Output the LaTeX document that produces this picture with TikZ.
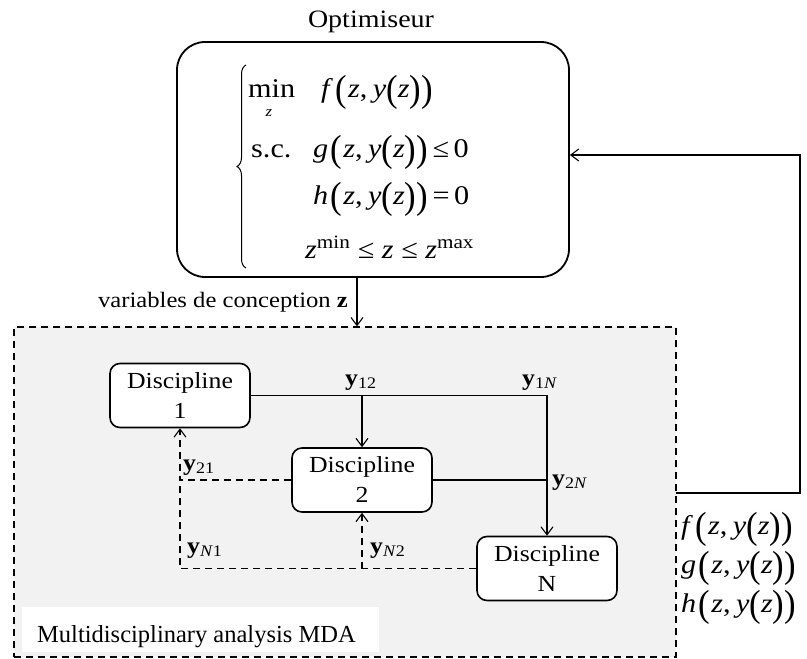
\documentclass[tikz,border=0pt]{standalone}
\usepackage{fontspec}
\usepackage{graphicx}
\setmainfont[FakeStretch=1.12]{Liberation Serif}
\newfontfamily\plainserif{Liberation Serif}
\usetikzlibrary{arrows.meta,calc,decorations.pathreplacing}
\newcommand\fs[2]{\fontsize{#1}{#2}\selectfont}
\newcommand\LP{\raisebox{-0.15em}{\scalebox{1.15}[1.4]{(}}}
\newcommand\RP{\raisebox{-0.15em}{\scalebox{1.15}[1.4]{)}}}
\newcommand\fn[1]{\textit{#1}\hspace{0.08em}\LP\hspace{0.05em}\textit{z},\hspace{0.2em}\textit{y}\LP\textit{z}\RP\RP}
\newcommand\yl[1]{\textbf{y}\textsubscript{#1}}
\begin{document}
\begin{tikzpicture}[x=1pt,y=-1pt,
  discbox/.style={draw, line width=1.6pt, rounded corners=10pt, fill=white,
    minimum width=140pt, minimum height=64pt, align=center, inner sep=0pt,
    font=\fs{23}{30}},
  conn/.style={line width=1.1pt, -{Straight Barb[length=8pt,width=12pt]}},
  plain/.style={line width=1.1pt},
  dconn/.style={line width=1.1pt, dash pattern=on 7pt off 5pt, -{Straight Barb[length=8pt,width=12pt]}},
  dplain/.style={line width=1.1pt, dash pattern=on 7pt off 5pt},
  lab/.style={anchor=base west, inner sep=0pt, font=\fs{23}{27}},
  mathrow/.style={anchor=base west, inner sep=0pt, font=\fs{27}{31}}]
\fill[white] (0,0) rectangle (807,659);
\useasboundingbox (0,0) rectangle (807,659);

% MDA frame
\node[draw, dash pattern=on 7pt off 5pt, line width=1.2pt, fill=gray!10,
  minimum width=662pt, minimum height=330pt, inner sep=0pt] (mda) at (345,492) {};
\node[fill=white, minimum width=357pt, minimum height=45pt, inner sep=0pt] (mdabg) at (200.5,629.5) {};
\node[anchor=base west, inner sep=0pt, font=\plainserif\fs{24.5}{29}] (mdatext) at (37,642) {Multidisciplinary analysis MDA};

% Optimiser
\node[font=\fs{25}{30}, inner sep=0pt] (opttitle) at (371,22) {Optimiseur};
\node[draw, line width=1.8pt, rounded corners=28pt, minimum width=392pt,
  minimum height=235pt, inner sep=0pt] (opt) at (373,159.5) {};
\draw[line width=1pt, decorate, decoration={brace, amplitude=9pt, aspect=0.5}] (246,268) -- (246,65);
\node[mathrow] (minop) at (248,97) {min};
\node[inner sep=0pt, font=\fs{15}{18}\itshape] (minz) at (269,113) {z};
\node[mathrow] (frow) at (321,97) {\fn{f}};
\node[mathrow] (sc) at (251,157) {s.c.};
\node[mathrow] (grow) at (313,157) {\fn{g}\,≤\,0};
\node[mathrow] (hrow) at (313,204) {\fn{h}\,=\,0};
\node[mathrow] (zrow) at (305,258) {\textit{z}\textsuperscript{min}\;≤\;\textit{z}\;≤\;\textit{z}\textsuperscript{max}};

% design variables
\coordinate (zx) at (357,0);
\draw[conn] (opt.south -| zx) -- (mda.north -| zx);
\node[anchor=base east, inner sep=0pt, font=\fs{22}{26}] (zlabel) at (348,307) {variables de conception \textbf{z}};

% feedback
\coordinate (fbl) at (676,493);
\coordinate (fbb) at (800,493);
\coordinate (fbt) at (800,155);
\draw[conn] (fbl) -- (fbb) -- (fbt) -- (opt.east |- fbt);
\node[mathrow] (fout) at (681,534) {\fn{f}};
\node[mathrow] (gout) at (681,573) {\fn{g}};
\node[mathrow] (hout) at (681,612) {\fn{h}};

% disciplines
\node[discbox] (d1) at (180,395.5) {Discipline\\1};
\node[discbox] (d2) at (362,480) {Discipline\\2};
\node[discbox] (dn) at (547,568.5) {Discipline\\N};

\draw[conn] (d1.east) -| (dn.north);
\draw[conn] (d1.east -| d2.north) -- (d2.north);
\draw[plain] (d2.east) -- (d2.east -| dn.north);
\draw[dconn] (d2.west) -| (d1.south);
\draw[dplain] (dn.west) -| (d1.south |- d2.west);
\draw[dconn] (d2.south |- dn.west) -- (d2.south);

\node[lab] (y12) at (345,385) {\yl{12}};
\node[lab] (y1n) at (522,385) {\yl{1\textit{N}}};
\node[lab] (y21) at (183,470) {\yl{21}};
\node[lab] (y2n) at (552,485) {\yl{2\textit{N}}};
\node[lab] (yn1) at (187,553) {\yl{\textit{N}1}};
\node[lab] (yn2) at (370,553) {\yl{\textit{N}2}};
\end{tikzpicture}
\end{document}
